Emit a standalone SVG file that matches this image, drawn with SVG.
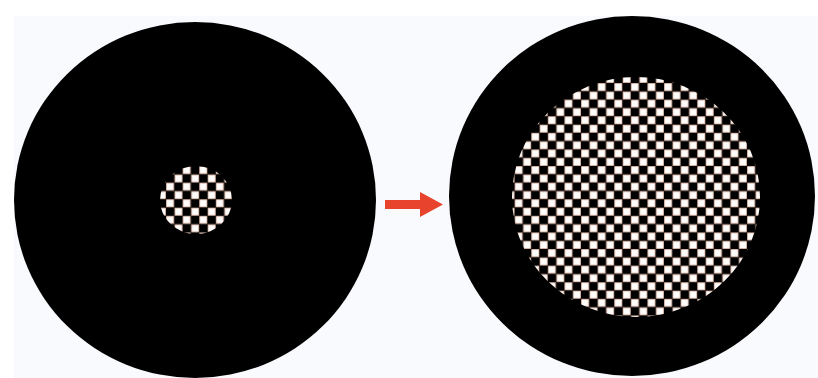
<svg xmlns="http://www.w3.org/2000/svg" width="818" height="378" viewBox="0 0 818 378">
<defs>
<style>
.disc{fill:#000;}
.cell{fill:#fffdfb;stroke:#f0c4b2;stroke-width:0.8;}
.arrow{fill:#e8432d;}
</style>
<pattern id="chk" patternUnits="userSpaceOnUse" x="0" y="0" width="16.6" height="16.6">
<rect width="16.6" height="16.6" fill="#000"/>
<rect class="cell" x="0.6" y="0.6" width="7.1" height="7.1"/>
<rect class="cell" x="8.9" y="8.9" width="7.1" height="7.1"/>
</pattern>
</defs>
<rect x="0" y="0" width="818" height="378" fill="#ffffff"/>
<rect x="14" y="16" width="804" height="362" fill="#f8fafd"/>
<g id="left-disc">
<ellipse class="disc" cx="195" cy="200" rx="181" ry="178"/>
<ellipse cx="196" cy="200" rx="36" ry="34" fill="url(#chk)"/>
</g>
<g id="right-disc">
<ellipse class="disc" cx="632" cy="196" rx="183" ry="180"/>
<ellipse cx="636" cy="197" rx="124" ry="120" fill="url(#chk)"/>
</g>
<g id="connectors">
<path class="arrow" d="M385,200 L420,200 L420,192 L443,204.5 L420,217 L420,209 L385,209 Z"/>
</g>
</svg>
